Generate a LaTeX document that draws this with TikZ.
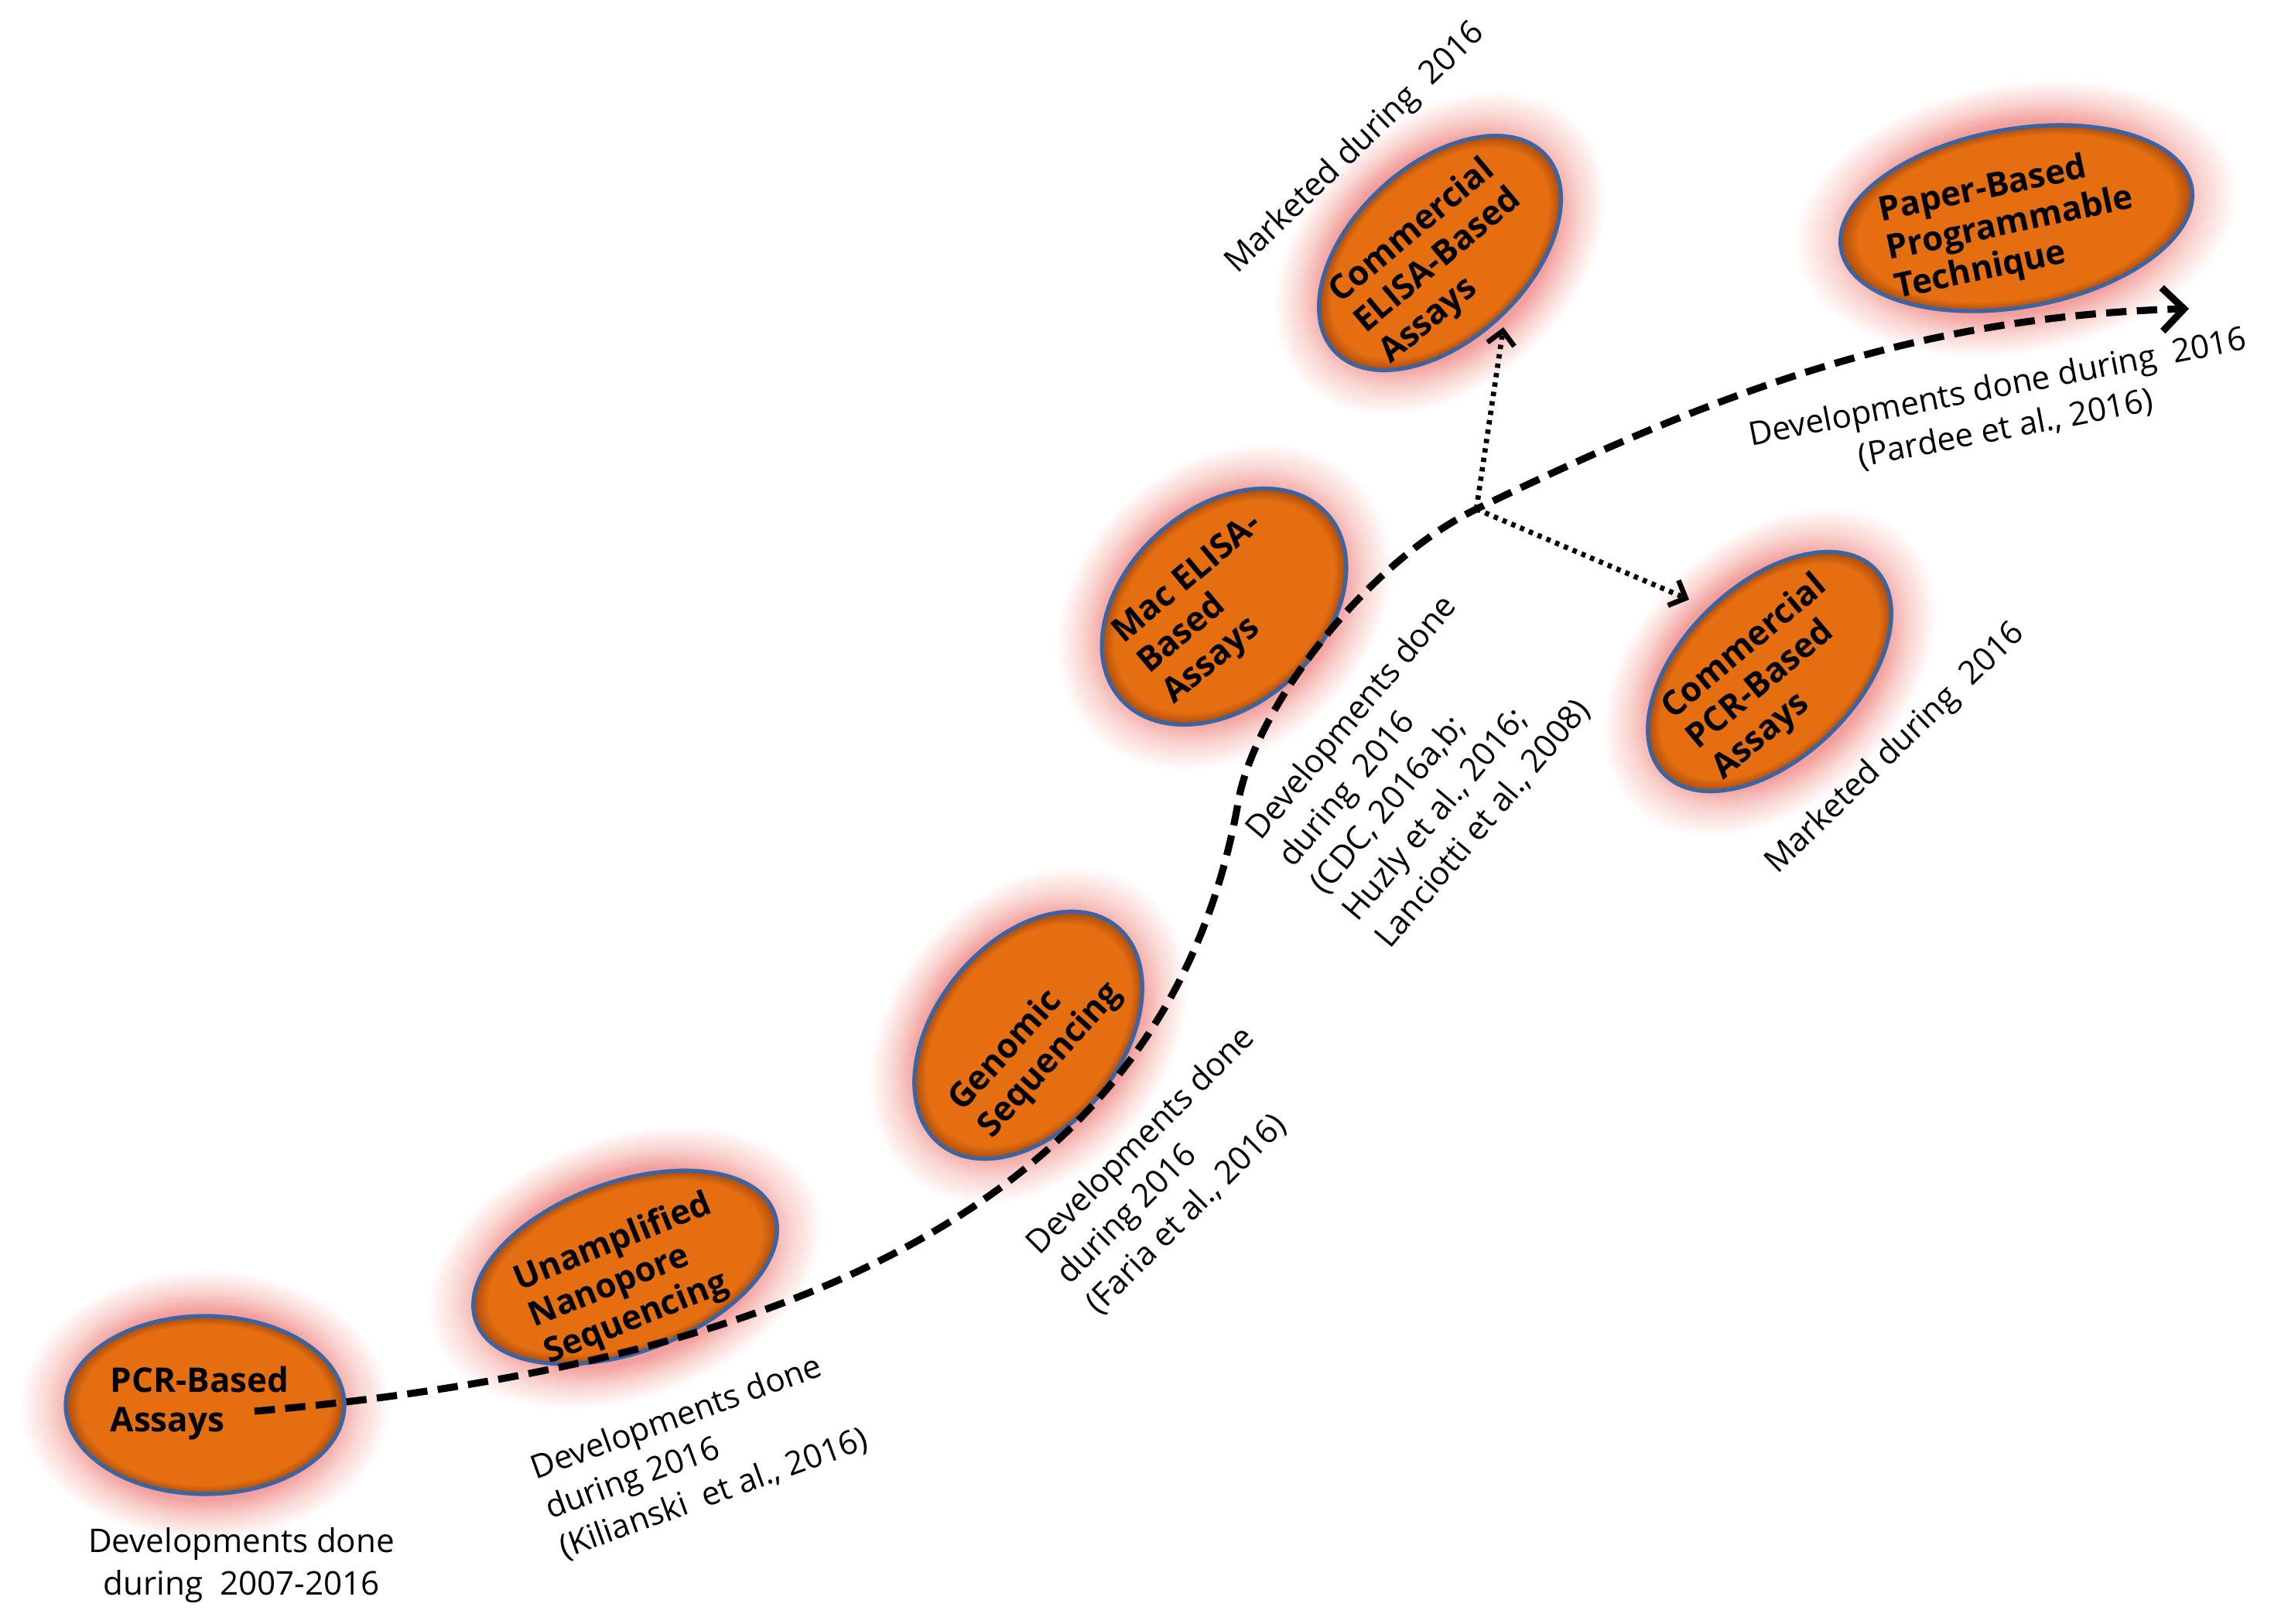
\documentclass[tikz,border=0pt]{standalone}
\usepackage{fontspec}
\setmainfont{Open Sans}
\usetikzlibrary{shapes.geometric,arrows.meta}

\definecolor{pumpkin}{RGB}{228,110,16}
\definecolor{rust}{RGB}{170,75,15}
\definecolor{rim}{RGB}{60,100,160}
\definecolor{halo}{RGB}{242,160,158}
\definecolor{halolight}{RGB}{249,212,208}

\pgfdeclareradialshading{glowshade}{\pgfpoint{0bp}{0bp}}{color(0bp)=(halo); color(17.5bp)=(halo); color(21bp)=(halolight); color(25bp)=(white); color(50bp)=(white)}
\pgfdeclareradialshading{innershade}{\pgfpoint{0bp}{0bp}}{color(0bp)=(pumpkin); color(22.5bp)=(pumpkin); color(25bp)=(rust); color(50bp)=(rust)}

\tikzset{
  bubble/.style={ellipse, draw=rim, line width=1.5pt, inner sep=0pt},
  bubtext/.style={font=\fontsize{12.5}{14.5}\selectfont\bfseries, align=left, inner sep=0pt},
  note/.style={font=\fontsize{12}{15.5}\selectfont, align=left, inner sep=0pt},
  trail/.style={line width=2.6pt, dash pattern=on 7.5pt off 3.8pt, -{Straight Barb[length=8pt,width=16pt]}},
  branch/.style={line width=1.9pt, dash pattern=on 1.6pt off 1.9pt, -{Straight Barb[length=5pt,width=10pt]}}
}

\begin{document}
\begin{tikzpicture}
\useasboundingbox (0,0) rectangle (29.48,20.98);

% bubbles: name/x/y/angle/rx/ry/text x/text y/text angle/text
\foreach \n/\x/\y/\a/\rx/\ry/\tx/\ty/\ta/\txt in {
  pcr/2.65/2.82/0/1.80/1.15/2.58/2.84/0/{PCR-Based\\Assays},
  nano/8.08/4.60/20/2.05/1.10/8.12/4.44/22/{Unamplified\\Nanopore\\Sequencing},
  gen/13.29/7.60/51/1.81/1.20/13.39/7.44/48/{Genomic\\Sequencing},
  mac/15.82/13.14/42/1.79/1.27/15.68/13.10/40/{Mac ELISA-\\Based\\Assays},
  celisa/18.61/17.71/43/1.86/1.13/18.59/17.60/40/{Commercial\\ELISA-Based\\Assays},
  cpcr/22.87/12.30/44/1.90/1.12/22.88/12.22/40/{Commercial\\PCR-Based\\Assays},
  paper/26.06/18.16/10/2.30/1.15/25.98/18.07/12/{Paper-Based\\Programmable\\Technique}}{
  \begin{scope}[transform canvas={rotate around={\a:(\x,\y)}}]
    \shade[shading=glowshade] (\x,\y) ellipse [x radius={\rx+0.6}, y radius={\ry+0.6}];
    \shade[shading=innershade] (\x,\y) ellipse [x radius=\rx, y radius=\ry];
  \end{scope}
  \node[bubble, rotate=\a, minimum width={2*\rx cm}, minimum height={2*\ry cm}] (\n) at (\x,\y) {};
  \node[bubtext, rotate=\ta] (\n-t) at (\tx,\ty) {\txt};
}

% notes
\node[note, align=center] (pcr-note) at (3.12,0.75) {Developments done\\during~ 2007-2016};
\node[note, rotate=20] (nano-note) at (9.04,2.18) {Developments done\\during 2016\\(Kilianski~ et al., 2016)};
\node[note, rotate=45] (gen-note) at (15.13,5.85) {Developments done\\during 2016\\(Faria et al., 2016)};
\node[note, rotate=50] (mac-note) at (18.33,11.03) {Developments done\\during~ 2016\\(CDC, 2016a,b;\\Huzly et al., 2016;\\Lanciotti et al., 2008)};
\node[note, rotate=44] (celisa-note) at (17.52,19.06) {Marketed during~ 2016};
\node[note, rotate=44] (cpcr-note) at (24.50,11.30) {Marketed during~ 2016};
\node[note, rotate=11, align=center] (paper-note) at (25.87,15.70) {Developments done during~ 2016\\(Pardee et al., 2016)};

% the trail
\coordinate (start) at (3.29,2.74);
\coordinate (bend) at (16.0,10.6);
\coordinate (fork) at (19.08,14.40);
\coordinate (tip) at (28.29,16.99);
\coordinate (up) at (19.43,16.75);
\coordinate (down) at (21.83,13.23);

\draw[trail] (start) .. controls (11.76,3.48) and (15.25,6.36) .. (bend)
  .. controls (16.2,11.8) and (17.64,13.70) .. (fork)
  .. controls (22.23,15.93) and (24.79,16.89) .. (tip);
\draw[branch] (fork) -- (up);
\draw[branch] (fork) -- (down);

\end{tikzpicture}
\end{document}
